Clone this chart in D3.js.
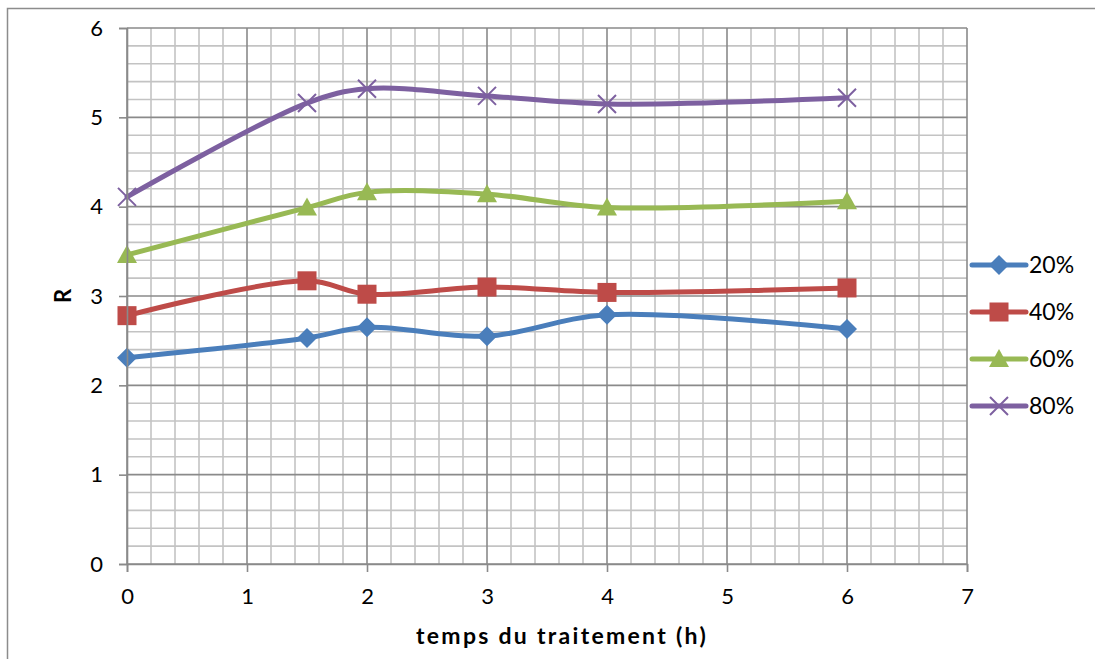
<!DOCTYPE html>
<html>
<head>
<meta charset="utf-8">
<script src="https://cdn.jsdelivr.net/npm/d3@7"></script>
<style>
  html, body { margin: 0; padding: 0; background: #fff; }
  svg { display: block; font-family: Lato, "Open Sans", sans-serif; }
</style>
</head>
<body>
<svg id="chart" width="1095" height="659"></svg>
<script>
// Treatment time (h) and R values for each concentration
const hours = [0, 1.5, 2, 3, 4, 6];
const r20 = [2.31, 2.53, 2.65, 2.55, 2.79, 2.63];
const r40 = [2.78, 3.17, 3.02, 3.10, 3.04, 3.09];
const r60 = [3.46, 3.99, 4.16, 4.14, 3.99, 4.06];
const r80 = [4.11, 5.16, 5.32, 5.24, 5.15, 5.22];
const seriesNames = ["20%", "40%", "60%", "80%"];
const xTicks = [0, 1, 2, 3, 4, 5, 6, 7];
const yTicks = [0, 1, 2, 3, 4, 5, 6];

const colors = ["#4a7ebb", "#be4b48", "#98b954", "#7d60a0"];
const markers = ["diamond", "square", "triangle", "cross"];
const series = [r20, r40, r60, r80].map((vals, i) => ({
  name: seriesNames[i], color: colors[i], marker: markers[i],
  points: hours.map((h, j) => ({ x: h, y: vals[j] }))
}));

const svg = d3.select("#chart");

// chart frame
svg.append("rect").attr("x", 7.5).attr("y", 8.5).attr("width", 1100).attr("height", 660)
  .attr("fill", "none").attr("stroke", "#8c8c8c").attr("stroke-width", 1.5);

const plot = { left: 127, right: 967, top: 28, bottom: 564 };
const x = d3.scaleLinear().domain([0, 7]).range([plot.left, plot.right]);
const y = d3.scaleLinear().domain([0, 6]).range([plot.bottom, plot.top]);

const g = svg.append("g");

// minor grid every 0.2
const minorX = d3.range(0, 7.001, 0.2).filter(v => Math.abs(v - Math.round(v)) > 1e-6);
const minorY = d3.range(0, 6.001, 0.2).filter(v => Math.abs(v - Math.round(v)) > 1e-6);
g.selectAll("line.mx").data(minorX).join("line")
  .attr("x1", d => x(d)).attr("x2", d => x(d)).attr("y1", plot.top).attr("y2", plot.bottom)
  .attr("stroke", "#c3c3c3").attr("stroke-width", 1.6);
g.selectAll("line.my").data(minorY).join("line")
  .attr("y1", d => y(d)).attr("y2", d => y(d)).attr("x1", plot.left).attr("x2", plot.right)
  .attr("stroke", "#c3c3c3").attr("stroke-width", 1.6);

// major grid
g.selectAll("line.Mx").data(xTicks).join("line")
  .attr("x1", d => x(d)).attr("x2", d => x(d)).attr("y1", plot.top).attr("y2", plot.bottom)
  .attr("stroke", "#8a8a8a").attr("stroke-width", 1.6);
g.selectAll("line.My").data(yTicks).join("line")
  .attr("y1", d => y(d)).attr("y2", d => y(d)).attr("x1", plot.left).attr("x2", plot.right)
  .attr("stroke", "#8a8a8a").attr("stroke-width", 1.6);

// axes
const xAxis = d3.axisBottom(x).tickValues(xTicks).tickSize(8).tickPadding(16).tickFormat(d3.format("d"));
const yAxis = d3.axisLeft(y).tickValues(yTicks).tickSize(8).tickPadding(16).tickFormat(d3.format("d"));
const xa = svg.append("g").attr("transform", `translate(0,${plot.bottom})`).call(xAxis);
const ya = svg.append("g").attr("transform", `translate(${plot.left},0)`).call(yAxis);
[xa, ya].forEach(a => {
  a.select(".domain").attr("stroke", "#8a8a8a").attr("stroke-width", 1.6);
  a.selectAll(".tick line").attr("stroke", "#8a8a8a").attr("stroke-width", 1.6);
  a.selectAll(".tick text").attr("fill", "#000").attr("font-size", 22)
    .attr("font-family", "Lato, 'Open Sans', sans-serif");
});

// axis titles
const xTitle = svg.append("text").attr("x", 562).attr("y", 644).attr("text-anchor", "middle")
  .attr("font-size", 23).attr("font-weight", "bold").text("temps du traitement (h)");
// spread the title letters to its full width
const wanted = 292, got = xTitle.node().getComputedTextLength();
const chars = "temps du traitement (h)".length;
if (got < wanted) xTitle.attr("letter-spacing", (wanted - got) / chars);
svg.append("text").attr("transform", "translate(71,296) rotate(-90)").attr("text-anchor", "middle")
  .attr("font-size", 22).attr("font-weight", "bold").text("R");

// marker shapes
function drawMarker(sel, type, color) {
  if (type === "diamond") {
    sel.append("path").attr("d", "M0,-10L10,0L0,10L-10,0Z").attr("fill", color);
  } else if (type === "square") {
    sel.append("rect").attr("x", -9.5).attr("y", -9.5).attr("width", 19).attr("height", 19).attr("fill", color);
  } else if (type === "triangle") {
    sel.append("path").attr("d", "M0,-10L10,8L-10,8Z").attr("fill", color);
  } else {
    sel.append("path").attr("d", "M-9,-9L9,9M-9,9L9,-9").attr("stroke", color)
      .attr("stroke-width", 2).attr("fill", "none");
  }
}

const line = d3.line().x(d => x(d.x)).y(d => y(d.y)).curve(d3.curveCatmullRom.alpha(0.5));

series.forEach(s => {
  g.append("path").datum(s.points).attr("d", line).attr("fill", "none")
    .attr("stroke", s.color).attr("stroke-width", 5).attr("stroke-linejoin", "round").attr("stroke-linecap", "round");
  s.points.forEach(p => {
    const m = g.append("g").attr("transform", `translate(${x(p.x)},${y(p.y)})`);
    drawMarker(m, s.marker, s.color);
  });
});

// legend
const legend = svg.append("g");
series.forEach((s, i) => {
  const ly = 265 + i * 47;
  legend.append("line").attr("x1", 972).attr("x2", 1026).attr("y1", ly).attr("y2", ly)
    .attr("stroke", s.color).attr("stroke-width", 5).attr("stroke-linecap", "round");
  const m = legend.append("g").attr("transform", `translate(999,${ly})`);
  drawMarker(m, s.marker, s.color);
  legend.append("text").attr("x", 1029).attr("y", ly + 8).attr("font-size", 23).attr("fill", "#000").text(s.name);
});
</script>
</body>
</html>
